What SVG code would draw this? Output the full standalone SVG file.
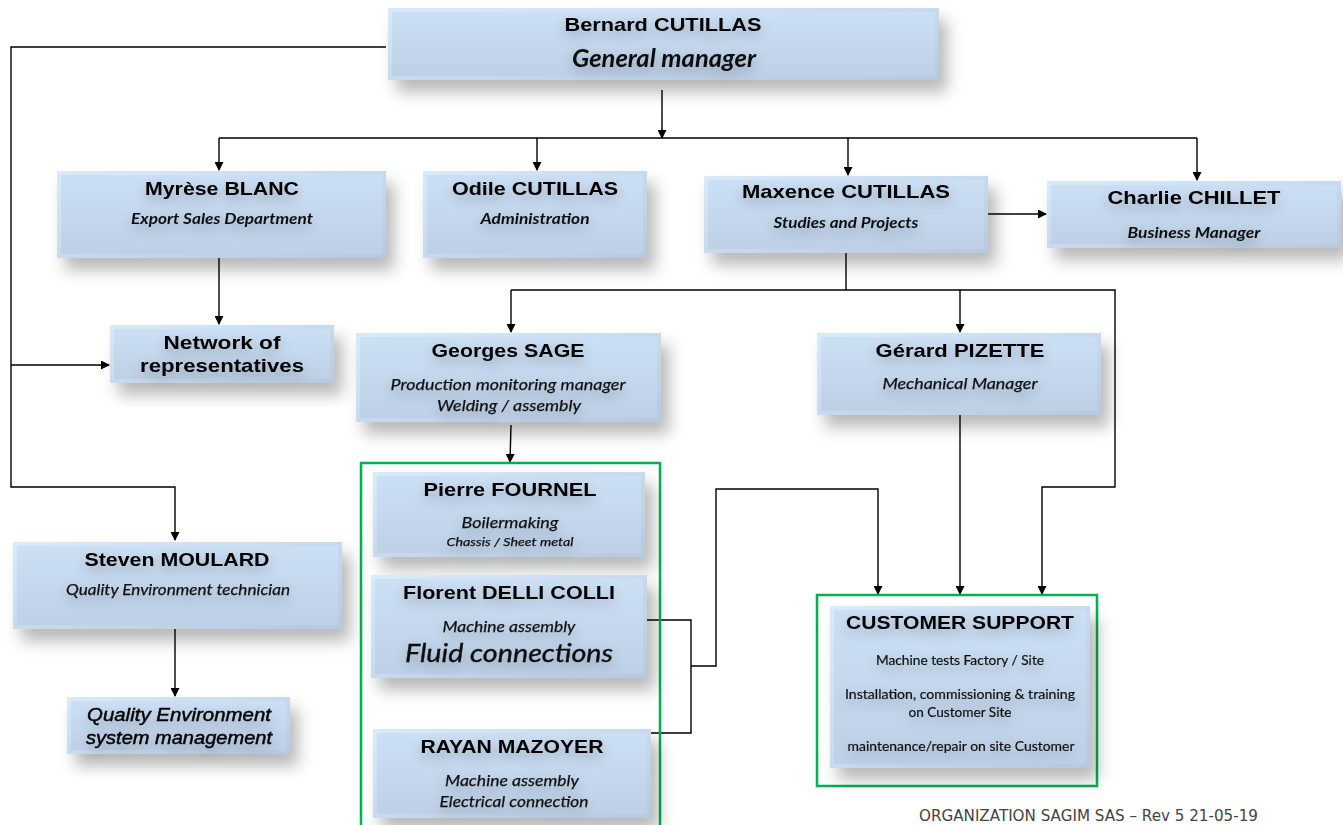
<svg xmlns="http://www.w3.org/2000/svg" width="1343" height="825" viewBox="0 0 1343 825">
<defs>
<linearGradient id="bevel" x1="0" y1="0" x2="1" y2="1"><stop offset="0" stop-color="#d9eafa"/><stop offset="1" stop-color="#b6c9df"/></linearGradient>
<linearGradient id="face" x1="0" y1="0" x2="0" y2="1"><stop offset="0" stop-color="#cce0f5"/><stop offset="1" stop-color="#bdd0e6"/></linearGradient>
<filter id="sh" x="-10%" y="-20%" width="130%" height="160%"><feDropShadow dx="8" dy="12" stdDeviation="8" flood-color="#000" flood-opacity="0.28"/></filter>
<filter id="tg" x="-25%" y="-80%" width="150%" height="260%"><feGaussianBlur in="SourceAlpha" stdDeviation="7"/><feOffset dy="5"/><feComponentTransfer><feFuncA type="linear" slope="0.3"/></feComponentTransfer><feMerge><feMergeNode/><feMergeNode in="SourceGraphic"/></feMerge></filter>
<marker id="ar" markerWidth="9" markerHeight="9" refX="8" refY="4.5" orient="auto" markerUnits="userSpaceOnUse"><path d="M0,0 L9,4.5 L0,9 z" fill="#000"/></marker>
</defs>
<style>
.b{fill:url(#bevel);filter:url(#sh)}
.f{fill:url(#face)}
.t{font-family:"Liberation Sans",Arial,sans-serif;font-weight:bold;font-size:19px;fill:#000;text-anchor:middle}
.s{font-family:Lato,"Open Sans",sans-serif;font-style:italic;font-weight:bold;font-size:15px;fill:#111;text-anchor:middle}
.r{font-family:Lato,"Open Sans",sans-serif;font-style:italic;font-size:16px;fill:#111;stroke:#111;stroke-width:0.25;text-anchor:middle}
.c{font-family:Lato,"Open Sans",sans-serif;font-size:13px;fill:#111;stroke:#111;stroke-width:0.2;text-anchor:middle}
.q{font-family:"Liberation Sans",Arial,sans-serif;font-style:italic;font-size:18px;fill:#000;stroke:#000;stroke-width:0.45;text-anchor:middle}
.g{fill:none;stroke:#00b050;stroke-width:2.5}
.ln{fill:none;stroke:#000;stroke-width:1.4}
.a{marker-end:url(#ar)}
.tx{filter:url(#tg)}
</style>
<rect width="1343" height="825" fill="#fff"/>

<g id="connectors">
<path class="ln a" d="M386,47 H11 V487 H175 V540"/>
<path class="ln a" d="M11,365 H109"/>
<path class="ln a" d="M662,90 V138"/>
<path class="ln" d="M219,138 H1197"/>
<path class="ln a" d="M219,138 V170"/>
<path class="ln a" d="M537,138 V170"/>
<path class="ln a" d="M848,138 V175"/>
<path class="ln a" d="M1197,138 V180"/>
<path class="ln a" d="M219,258 V324"/>
<path class="ln a" d="M988,214 H1046"/>
<path class="ln" d="M846,253 V290"/>
<path class="ln a" d="M511,290 H1115 V487 H1042 V594"/>
<path class="ln a" d="M511,290 V332"/>
<path class="ln a" d="M960,290 V332"/>
<path class="ln a" d="M511,425 L510,462"/>
<path class="ln a" d="M960,415 V594"/>
<path class="ln" d="M647,620 H691 V733 H651"/>
<path class="ln a" d="M691,666 H716 V489 H878 V594"/>
<path class="ln a" d="M175,629 V696"/>
</g>

<g id="group-workshop"><rect class="g" x="361" y="463" width="299" height="380"/></g>
<g id="group-support"><rect class="g" x="817" y="595" width="280" height="191"/></g>

<g id="bernard">
<rect class="b" x="388" y="8" width="551" height="72"/><rect class="f" x="392" y="12" width="543" height="64"/>
<g class="tx"><text class="t" x="663" y="31" textLength="197" lengthAdjust="spacingAndGlyphs">Bernard CUTILLAS</text>
<text class="s" x="664" y="67" style="font-size:24px" textLength="184" lengthAdjust="spacingAndGlyphs">General manager</text></g>
</g>

<g id="myrese">
<rect class="b" x="57" y="171" width="329" height="87"/><rect class="f" x="61" y="175" width="321" height="79"/>
<g class="tx"><text class="t" x="222" y="195" textLength="154" lengthAdjust="spacingAndGlyphs">Myrèse BLANC</text>
<text class="s" x="222" y="224" textLength="182" lengthAdjust="spacingAndGlyphs">Export Sales Department</text></g>
</g>

<g id="odile">
<rect class="b" x="423" y="171" width="224" height="87"/><rect class="f" x="427" y="175" width="216" height="79"/>
<g class="tx"><text class="t" x="535" y="195" textLength="166" lengthAdjust="spacingAndGlyphs">Odile CUTILLAS</text>
<text class="s" x="535" y="224" textLength="109" lengthAdjust="spacingAndGlyphs">Administration</text></g>
</g>

<g id="maxence">
<rect class="b" x="704" y="176" width="284" height="77"/><rect class="f" x="708" y="180" width="276" height="69"/>
<g class="tx"><text class="t" x="846" y="198" textLength="208" lengthAdjust="spacingAndGlyphs">Maxence CUTILLAS</text>
<text class="s" x="846" y="228" textLength="145" lengthAdjust="spacingAndGlyphs">Studies and Projects</text></g>
</g>

<g id="charlie">
<rect class="b" x="1047" y="181" width="294" height="67"/><rect class="f" x="1051" y="185" width="286" height="59"/>
<g class="tx"><text class="t" x="1194" y="204" textLength="173" lengthAdjust="spacingAndGlyphs">Charlie CHILLET</text>
<text class="s" x="1194" y="238" textLength="133" lengthAdjust="spacingAndGlyphs">Business Manager</text></g>
</g>

<g id="network">
<rect class="b" x="110" y="325" width="224" height="58"/><rect class="f" x="114" y="329" width="216" height="50"/>
<g class="tx"><text class="t" x="222" y="349" textLength="117" lengthAdjust="spacingAndGlyphs">Network of</text>
<text class="t" x="222" y="372" textLength="164" lengthAdjust="spacingAndGlyphs">representatives</text></g>
</g>

<g id="georges">
<rect class="b" x="356" y="333" width="305" height="89"/><rect class="f" x="360" y="337" width="297" height="81"/>
<g class="tx"><text class="t" x="508" y="357" textLength="153" lengthAdjust="spacingAndGlyphs">Georges SAGE</text>
<text class="r" x="508" y="390" textLength="235" lengthAdjust="spacingAndGlyphs">Production monitoring manager</text>
<text class="r" x="509" y="411" textLength="144" lengthAdjust="spacingAndGlyphs">Welding / assembly</text></g>
</g>

<g id="gerard">
<rect class="b" x="817" y="333" width="284" height="82"/><rect class="f" x="821" y="337" width="276" height="74"/>
<g class="tx"><text class="t" x="960" y="357" textLength="169" lengthAdjust="spacingAndGlyphs">Gérard PIZETTE</text>
<text class="r" x="960" y="389" textLength="155" lengthAdjust="spacingAndGlyphs">Mechanical Manager</text></g>
</g>

<g id="pierre">
<rect class="b" x="373" y="472" width="272" height="85"/><rect class="f" x="377" y="476" width="264" height="77"/>
<g class="tx"><text class="t" x="510" y="496" textLength="173" lengthAdjust="spacingAndGlyphs">Pierre FOURNEL</text>
<text class="r" x="510" y="528" textLength="97" lengthAdjust="spacingAndGlyphs">Boilermaking</text>
<text class="r" x="510" y="546" style="font-size:12px" textLength="127" lengthAdjust="spacingAndGlyphs">Chassis / Sheet metal</text></g>
</g>

<g id="florent">
<rect class="b" x="371" y="575" width="276" height="103"/><rect class="f" x="375" y="579" width="268" height="95"/>
<g class="tx"><text class="t" x="509" y="599" textLength="212" lengthAdjust="spacingAndGlyphs">Florent DELLI COLLI</text>
<text class="r" x="509" y="632" textLength="133" lengthAdjust="spacingAndGlyphs">Machine assembly</text>
<text class="r" x="509" y="662" style="font-size:26px;stroke-width:0.4" textLength="208" lengthAdjust="spacingAndGlyphs">Fluid connections</text></g>
</g>

<g id="rayan">
<rect class="b" x="373" y="729" width="278" height="89"/><rect class="f" x="377" y="733" width="270" height="81"/>
<g class="tx"><text class="t" x="512" y="753" textLength="183" lengthAdjust="spacingAndGlyphs">RAYAN MAZOYER</text>
<text class="r" x="512" y="786" textLength="134" lengthAdjust="spacingAndGlyphs">Machine assembly</text>
<text class="r" x="514" y="807" textLength="149" lengthAdjust="spacingAndGlyphs">Electrical connection</text></g>
</g>

<g id="steven">
<rect class="b" x="13" y="542" width="329" height="87"/><rect class="f" x="17" y="546" width="321" height="79"/>
<g class="tx"><text class="t" x="177" y="566" textLength="185" lengthAdjust="spacingAndGlyphs">Steven MOULARD</text>
<text class="r" x="178" y="595" textLength="224" lengthAdjust="spacingAndGlyphs">Quality Environment technician</text></g>
</g>

<g id="quality">
<rect class="b" x="67" y="697" width="223" height="57"/><rect class="f" x="71" y="701" width="215" height="49"/>
<g class="tx"><text class="q" x="179" y="721" textLength="184" lengthAdjust="spacingAndGlyphs">Quality  Environment</text>
<text class="q" x="179" y="744" textLength="186" lengthAdjust="spacingAndGlyphs">system management</text></g>
</g>

<g id="customer-support">
<rect class="b" x="830" y="606" width="260" height="162"/><rect class="f" x="834" y="610" width="252" height="154"/>
<g class="tx"><text class="t" x="960" y="629" textLength="228" lengthAdjust="spacingAndGlyphs">CUSTOMER SUPPORT</text>
<text class="c" x="960" y="665" textLength="168" lengthAdjust="spacingAndGlyphs">Machine tests Factory / Site</text>
<text class="c" x="960" y="699" textLength="230" lengthAdjust="spacingAndGlyphs">Installation, commissioning &amp; training</text>
<text class="c" x="960" y="717" textLength="103" lengthAdjust="spacingAndGlyphs">on Customer Site</text>
<text class="c" x="961" y="751" textLength="227" lengthAdjust="spacingAndGlyphs">maintenance/repair on site Customer</text></g>
</g>

<text id="footer" x="919" y="821" style="font-family:'DejaVu Sans',sans-serif;font-size:15px;fill:#444" textLength="339" lengthAdjust="spacingAndGlyphs">ORGANIZATION SAGIM SAS – Rev 5 21-05-19</text>
</svg>
